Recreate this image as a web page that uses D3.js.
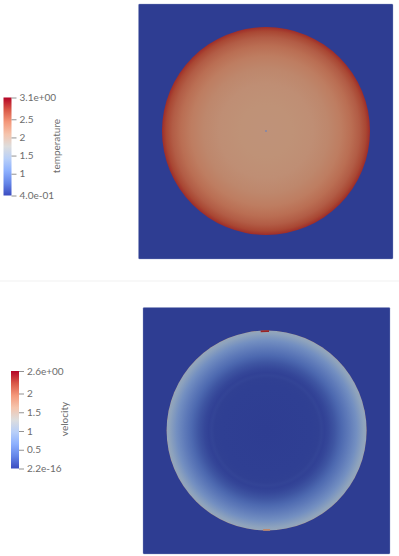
<!DOCTYPE html>
<html><head><meta charset="utf-8">
<script src="https://cdnjs.cloudflare.com/ajax/libs/d3/7.8.5/d3.min.js"></script>
<style>html,body{margin:0;padding:0;background:#fff}svg{display:block}
text{font-family:Lato,"Open Sans",sans-serif;fill:#6c6c6c}</style></head><body>
<svg id="c" width="399" height="556"></svg>
<script>
// colour map (ParaView "Cool to Warm")
const cmapStops=[0,0.125,0.25,0.375,0.5,0.625,0.75,0.875,1];
const cmapColors=["#3b4cc0","#6485e8","#8db0fe","#b8cff8","#dddddd","#f5c4ac","#f4987a","#d95847","#b40426"];
// temperature field
const tempRange=[0.4,3.1];
const tempTicks=[3.1,2.5,2,1.5,1,0.4];
const tempLabels=["3.1e+00","2.5","2","1.5","1","4.0e-01"];
const tempRadius=[0,0.25,0.45,0.6,0.72,0.82,0.9,0.96,1];
const tempValues=[2.17,2.18,2.21,2.28,2.38,2.5,2.62,2.76,2.9];
// velocity field
const velRange=[0,2.6];
const velTicks=[2.6,2,1.5,1,0.5,0];
const velLabels=["2.6e+00","2","1.5","1","0.5","2.2e-16"];
const velRadius=[0,0.45,0.52,0.55,0.58,0.62,0.68,0.75,0.82,0.9,0.97,0.994,1];
const velValues=[0.0,0.01,0.02,0.05,0.03,0.07,0.17,0.32,0.48,0.7,0.96,1.03,1.5];
const shade=0.78;      // lighting of the rendered surface
const outside=0;       // colour-map position outside the disc

const svg=d3.select("#c"), defs=svg.append("defs");
const cmap=d3.scaleLinear().domain(cmapStops).range(cmapColors).interpolate(d3.interpolateRgb);
const lit=t=>{const c=d3.rgb(cmap(t));return d3.rgb(c.r*shade,c.g*shade+2,c.b*shade-4).formatHex();};

function panel(id,p,range,radius,values){
  const x=d3.scaleLinear().domain([-1,1]).range([p.cx-p.r,p.cx+p.r]);
  const y=d3.scaleLinear().domain([-1,1]).range([p.cy+p.r,p.cy-p.r]);
  const norm=d3.scaleLinear().domain(range).range([0,1]);
  const g=svg.append("g");
  g.append("rect").attr("x",p.x0).attr("y",p.y0).attr("width",p.x1-p.x0).attr("height",p.y1-p.y0)
    .attr("rx",1).attr("fill",lit(outside)).attr("stroke","#8f9ac8").attr("stroke-opacity",.45).attr("stroke-width",.8);
  const grad=defs.append("radialGradient").attr("id",id);
  grad.selectAll("stop").data(radius).join("stop")
    .attr("offset",d=>d).attr("stop-color",(d,i)=>lit(norm(values[i])));
  g.append("circle").attr("cx",x(0)).attr("cy",y(0)).attr("r",x(1)-x(0)).attr("fill",`url(#${id})`);
  return {g,x,y,norm};
}
function colorbar(id,b,range,ticks,labels,title){
  const y=d3.scaleLinear().domain(range).range([b.y1,b.y0]);
  const grad=defs.append("linearGradient").attr("id",id).attr("x1",0).attr("x2",0).attr("y1",1).attr("y2",0);
  grad.selectAll("stop").data(cmapStops).join("stop").attr("offset",d=>d).attr("stop-color",(d,i)=>cmapColors[i]);
  svg.append("rect").attr("x",b.x).attr("y",b.y0).attr("width",b.w).attr("height",b.y1-b.y0).attr("fill",`url(#${id})`);
  const ax=d3.axisRight(y).tickValues(ticks).tickSize(5).tickPadding(3).tickFormat((d,i)=>labels[i]);
  const a=svg.append("g").attr("transform",`translate(${b.x+b.w},0)`).call(ax);
  a.select(".domain").remove();
  a.selectAll("line").attr("stroke","#777").attr("stroke-width",.8);
  a.selectAll("text").attr("font-size",10).attr("font-family",null);
  svg.append("text").attr("transform",`translate(${b.tx},${b.ty}) rotate(-90)`).attr("text-anchor","middle")
    .attr("font-size",10).text(title);
}
// separator
svg.append("line").attr("x1",0).attr("x2",399).attr("y1",281).attr("y2",281).attr("stroke","#f1f1f1");

const t=panel("gT",{x0:138.5,x1:393,y0:4,y1:259,cx:266,cy:131,r:104},tempRange,tempRadius,tempValues);
const centreValue=[1.0];
t.g.selectAll(".dot").data(centreValue).join("circle").attr("cx",t.x(0)).attr("cy",t.y(0)).attr("r",.9)
  .attr("fill",d=>lit(t.norm(d))).attr("opacity",.8);

const v=panel("gV",{x0:143,x1:390,y0:307.5,y1:554,cx:266.6,cy:430.5,r:100},velRange,velRadius,velValues);
// hot spots on the rim: [centre angle, half-width (deg), value]
const hotAngle=[-1,180], hotHalf=[2.4,2], hotValue=[2.45,1.8];
const arc=d3.arc();
v.g.selectAll(".hot").data(hotAngle).join("path")
  .attr("transform",`translate(${v.x(0)},${v.y(0)})`)
  .attr("d",(d,i)=>arc({innerRadius:v.x(0.985)-v.x(0),outerRadius:v.x(1.003)-v.x(0),
     startAngle:(d-hotHalf[i])*Math.PI/180,endAngle:(d+hotHalf[i])*Math.PI/180}))
  .attr("fill",(d,i)=>lit(v.norm(hotValue[i])));

colorbar("cT",{x:3.5,w:8,y0:97.5,y1:195.5,tx:60,ty:146},tempRange,tempTicks,tempLabels,"temperature");
colorbar("cV",{x:11,w:8,y0:371,y1:468.5,tx:68,ty:419},velRange,velTicks,velLabels,"velocity");
</script></body></html>
